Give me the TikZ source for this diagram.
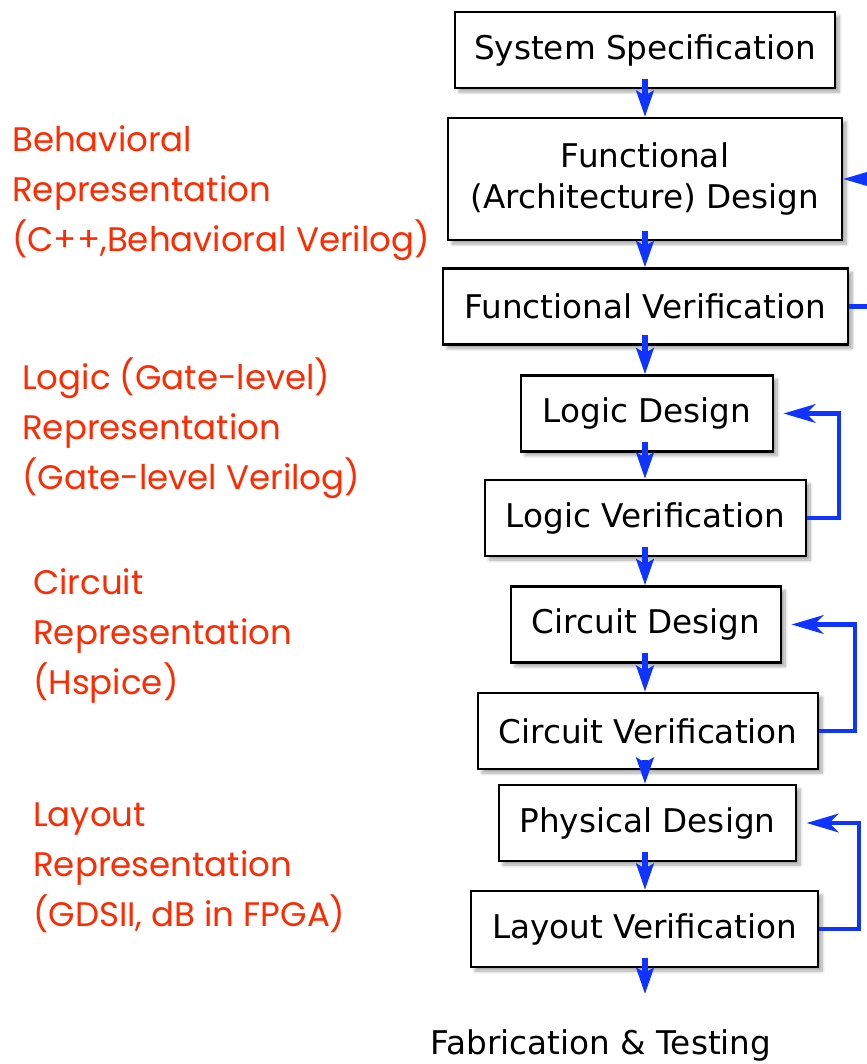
\documentclass[tikz,border=0pt]{standalone}
\usepackage{fontspec}
\setmainfont{DejaVu Sans}
\newfontfamily\notefont{Poppins}
\usepackage{xcolor}
\usetikzlibrary{positioning, arrows.meta, calc, shadows.blur}

\definecolor{flowblue}{RGB}{16,52,255}
\definecolor{notered}{RGB}{255,42,0}

\begin{document}
\begin{tikzpicture}[x=0.75pt, y=-0.75pt,
  stage/.style={draw, line width=1.8pt, fill=white, font=\fontsize{24.5}{31}\selectfont, minimum height=57pt, inner sep=2pt, align=center,
    blur shadow={shadow xshift=3pt, shadow yshift=-3pt, shadow blur steps=10, shadow opacity=35}},
  note/.style={anchor=west, align=left, text=notered, font=\notefont\fontsize{25.5}{37.5}\selectfont, inner sep=0pt},
  flow/.style={-{Stealth[length=19.5pt, width=13pt, inset=3.5pt]}, line width=3.8pt, flowblue},
  back/.style={-{Stealth[length=24pt, width=14pt, inset=7pt]}, line width=3.4pt, flowblue},
]
\useasboundingbox (0,0) rectangle (867,1064);

% --- Design steps ---
\node[stage, minimum width=285pt] (spec) at (645,50) {System Specification};
\node[stage, minimum width=295.5pt, minimum height=91.5pt] (fd) at (645,179) {Functional\\(Architecture) Design};
\node[stage, minimum width=303.75pt] (fv) at (645.5,306.5) {Functional Verification};
\node[stage, minimum width=189pt] (ld) at (647,413.5) {Logic Design};
\node[stage, minimum width=240.75pt] (lv) at (645.5,518) {Logic Verification};
\node[stage, minimum width=202.5pt] (cd) at (646,624.5) {Circuit Design};
\node[stage, minimum width=255pt] (cv) at (648,731) {Circuit Verification};
\node[stage, minimum width=222.75pt] (pd) at (647.5,823) {Physical Design};
\node[stage, minimum width=260.25pt] (lay) at (644.5,929) {Layout Verification};
\node[font=\fontsize{24.5}{31}\selectfont] (fab) at (601,1045) {Fabrication \& Testing};
\coordinate (fabtop) at (645,994);

% --- Down the flow ---
\foreach \a/\b in {spec/fd, fd/fv, fv/ld, ld/lv, lv/cd, cd/cv, cv/pd, pd/lay} {
  \draw[flow] ([yshift=8pt]\a.south -| 645,0) -- (\b.north -| 645,0);
}
\draw[flow] ([yshift=8pt]lay.south -| fabtop) -- (fabtop);

% --- Feedback loops ---
\draw[back] (fv.east) -- ++(45,0) |- (fd.east);
\draw[back, shorten >=7pt] (lv.east) -- ++(32,0) |- (ld.east);
\draw[back, shorten >=7pt] (cv.east) -- ++(36,0) |- (cd.east);
\draw[back, shorten >=7pt] (lay.east) -- ++(40,0) |- (pd.east);

% --- Representations ---
\node[note] (behav) at (12,193.5) {Behavioral\\Representation\\(C++,Behavioral Verilog)};
\node[note] (logicrep) at (22,428.5) {Logic (Gate-level)\\Representation\\(Gate-level Verilog)};
\node[note] (circrep) at (33,636) {Circuit\\Representation\\(Hspice)};
\node[note] (layrep) at (33,868) {Layout\\Representation\\(GDSII, dB in FPGA)};
\end{tikzpicture}
\end{document}
